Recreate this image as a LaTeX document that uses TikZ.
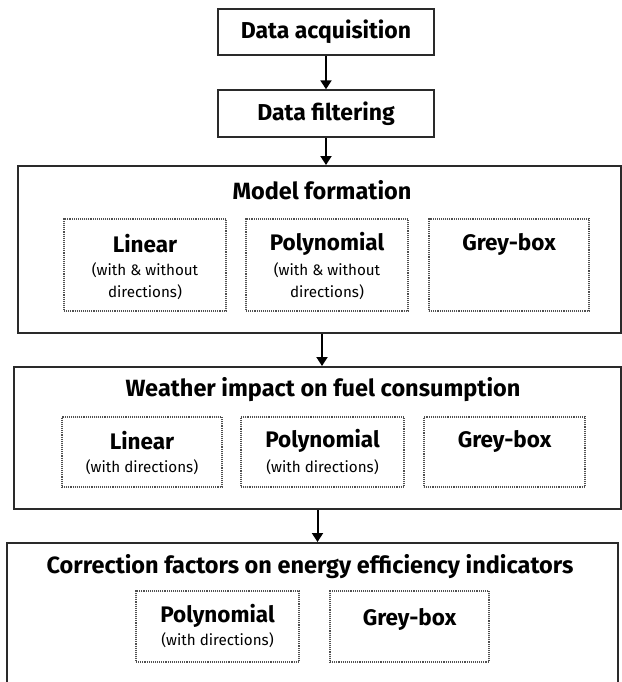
\documentclass[tikz,border=0pt]{standalone}
\usepackage{fontspec}
\setmainfont{Fira Sans}
\usetikzlibrary{arrows.meta}
\definecolor{edge}{HTML}{2A2A2A}
\definecolor{dotc}{HTML}{505050}
\begin{document}
\begin{tikzpicture}[x=1pt,y=-1pt,
  topbox/.style={draw=edge,line width=1.4pt,minimum width=216pt,minimum height=46pt,inner sep=0pt,font=\bfseries\fontsize{23}{26}\selectfont},
  bigbox/.style={draw=edge,line width=2pt,inner sep=0pt},
  dotbox/.style={draw=dotc,line width=1.1pt,densely dotted,inner sep=0pt},
  ttl/.style={font=\bfseries\fontsize{23.5}{26}\selectfont,inner sep=0pt},
  head/.style={font=\bfseries\fontsize{22.5}{25}\selectfont,inner sep=0pt},
  sub/.style={font=\fontsize{15.2}{18}\selectfont,inner sep=0pt},
  arr/.style={draw=black,line width=2pt,-{Triangle[width=11pt,length=9pt]}}]
\useasboundingbox (0,0) rectangle (621,682);
% top boxes
\node[topbox] (acq) at (326,32) {Data acquisition};
\node[topbox,minimum height=47pt] (filt) at (326,113.5) {Data filtering};
% model formation
\node[bigbox,minimum width=603pt,minimum height=167pt] (model) at (319.5,249.5) {};
\node[ttl] (mt) at (322,190) {Model formation};
\node[dotbox,minimum width=162pt,minimum height=92pt] (m1) at (145,265) {};
\node[dotbox,minimum width=162pt,minimum height=92pt] (m2) at (327,265) {};
\node[dotbox,minimum width=160pt,minimum height=92pt] (m3) at (509,265) {};
\node[head] (m1a) at (145,244) {Linear};
\node[sub] (m1b) at (145,270) {(with \& without};
\node[sub] (m1c) at (145,292) {directions)};
\node[head] (m2a) at (327,244) {Polynomial};
\node[sub] (m2b) at (327,270) {(with \& without};
\node[sub] (m2c) at (327,292) {directions)};
\node[head] (m3a) at (509,244) {Grey-box};
% weather
\node[bigbox,minimum width=607pt,minimum height=142pt] (wea) at (317.5,438) {};
\node[ttl] (wt) at (323,390) {Weather impact on fuel consumption};
\node[dotbox,minimum width=160pt,minimum height=70pt] (w1) at (142,452) {};
\node[dotbox,minimum width=163pt,minimum height=70pt] (w2) at (322.5,452) {};
\node[dotbox,minimum width=161pt,minimum height=70pt] (w3) at (504.5,452) {};
\node[head] (w1a) at (142,441) {Linear};
\node[sub] (w1b) at (142,467) {(with directions)};
\node[head] (w2a) at (322.5,441) {Polynomial};
\node[sub] (w2b) at (322.5,467) {(with directions)};
\node[head] (w3a) at (504.5,441) {Grey-box};
% correction
\node[bigbox,minimum width=611pt,minimum height=157pt] (cor) at (312.5,621.5) {};
\node[ttl] (ct) at (310,567) {Correction factors on energy efficiency indicators};
\node[dotbox,minimum width=163pt,minimum height=71pt] (c1) at (217.5,626.5) {};
\node[dotbox,minimum width=159pt,minimum height=71pt] (c2) at (409.5,626.5) {};
\node[head] (c1a) at (217.5,616) {Polynomial};
\node[sub] (c1b) at (217.5,640) {(with directions)};
\node[head] (c2a) at (409.5,619) {Grey-box};
% arrows
\draw[arr] (acq.south) -- (filt.north);
\draw[arr] (filt.south) -- (filt.south |- model.north);
\draw[arr] (model.south -| mt) -- (mt |- wea.north);
\draw[arr] (wea.south) -- (wea.south |- cor.north);
\end{tikzpicture}
\end{document}
